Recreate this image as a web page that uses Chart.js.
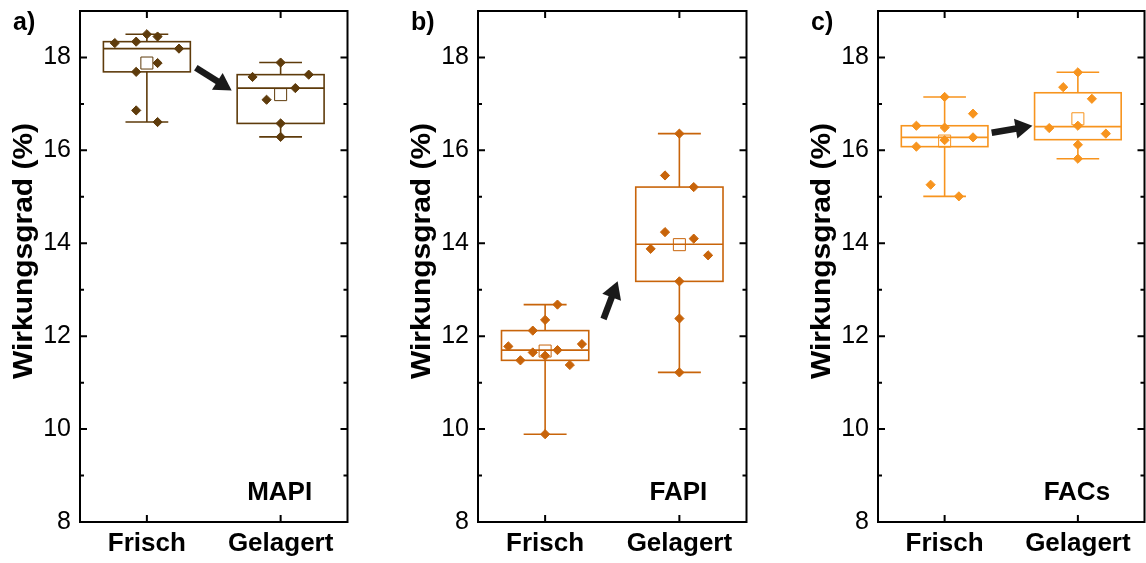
<!DOCTYPE html>
<html>
<head>
<meta charset="utf-8">
<title>Wirkungsgrad</title>
<script src="https://cdn.jsdelivr.net/npm/chart.js@4.4.0/dist/chart.umd.min.js"></script>
<style>
  body { margin: 0; background: #fff; width: 1146px; height: 563px; overflow: hidden; position: relative; }
  .panel { position: absolute; top: 0; height: 563px; }
</style>
</head>
<body>
<div class="panel" style="left:0; width:357px;"><canvas id="chartA"></canvas></div>
<div class="panel" style="left:398px; width:358px;"><canvas id="chartB"></canvas></div>
<div class="panel" style="left:798px; width:356px;"><canvas id="chartC"></canvas></div>

<script>
const categories = ['Frisch', 'Gelagert'];
const yMajorTicks = [8, 10, 12, 14, 16, 18];
const yMinorTicks = [9, 11, 13, 15, 17];
const yTitle = 'Wirkungsgrad (%)';

// MAPI: einzelne Zellen, x-Versatz (jitter) in Kategorieeinheiten
const mapiFrisch = [18.50, 18.45, 18.34, 18.31, 18.19, 17.88, 17.69, 16.86, 16.61];
const mapiFrischJitter = [0, 0.08, -0.08, -0.24, 0.24, 0.08, -0.08, -0.08, 0.08];
const mapiGelagert = [17.89, 17.63, 17.58, 17.34, 17.09, 16.58, 16.29];
const mapiGelagertJitter = [0, 0.21, -0.21, 0.11, -0.105, 0, 0];
// [min, Q1, Median, Q3, max] je Kategorie
const mapiBox = [[16.61, 17.69, 18.19, 18.34, 18.50], [16.29, 16.58, 17.34, 17.63, 17.89]];
const mapiMean = [17.88, 17.20];
const mapiArrow = [[0.366, 17.78], [0.634, 17.29]];

// FAPI
const fapiFrisch = [12.68, 12.35, 12.12, 11.83, 11.78, 11.70, 11.65, 11.58, 11.48, 11.38, 9.89];
const fapiFrischJitter = [0.092, 0, -0.092, 0.274, -0.274, 0.092, -0.092, 0, -0.184, 0.184, 0];
const fapiGelagert = [16.36, 15.46, 15.21, 14.24, 14.10, 13.88, 13.74, 13.18, 12.38, 11.22];
const fapiGelagertJitter = [0, -0.107, 0.107, -0.107, 0.107, -0.214, 0.214, 0, 0, 0];
const fapiBox = [[9.89, 11.48, 11.70, 12.12, 12.68], [11.22, 13.18, 13.98, 15.21, 16.36]];
const fapiMean = [11.68, 13.97];
const fapiArrow = [[0.435, 12.37], [0.54, 13.18]];

// FACs
const facsFrisch = [17.15, 16.79, 16.53, 16.49, 16.28, 16.22, 16.08, 15.26, 15.01];
const facsFrischJitter = [0, 0.213, -0.212, 0, 0.213, 0, -0.212, -0.105, 0.107];
const facsGelagert = [17.68, 17.36, 17.11, 16.53, 16.48, 16.36, 16.12, 15.82];
const facsGelagertJitter = [0, -0.11, 0.105, 0, -0.215, 0.21, 0, 0];
const facsBox = [[15.01, 16.08, 16.28, 16.53, 17.15], [15.82, 16.23, 16.51, 17.24, 17.68]];
const facsMean = [16.20, 16.68];
const facsArrow = [[0.353, 16.38], [0.659, 16.53]];

const panels = [
  { id: 'chartA', tag: 'a)', name: 'MAPI', color: '#5e3b0b', values: [mapiFrisch, mapiGelagert],
    jitter: [mapiFrischJitter, mapiGelagertJitter], box: mapiBox, mean: mapiMean, arrow: mapiArrow, padRight: 3 },
  { id: 'chartB', tag: 'b)', name: 'FAPI', color: '#c8640a', values: [fapiFrisch, fapiGelagert],
    jitter: [fapiFrischJitter, fapiGelagertJitter], box: fapiBox, mean: fapiMean, arrow: fapiArrow, padRight: 2 },
  { id: 'chartC', tag: 'c)', name: 'FACs', color: '#f7941e', values: [facsFrisch, facsGelagert],
    jitter: [facsFrischJitter, facsGelagertJitter], box: facsBox, mean: facsMean, arrow: facsArrow, padRight: 1 }
];

const FONT = "'Liberation Sans', Arial, sans-serif";

// Box, Whisker und Median
const boxPlugin = {
  id: 'boxes',
  beforeDatasetsDraw(chart, args, opts) {
    const { ctx } = chart;
    const xs = chart.scales.x, ys = chart.scales.y;
    ctx.save();
    ctx.strokeStyle = opts.color;
    ctx.lineWidth = 1.6;
    opts.box.forEach((s, i) => {
      const cx = xs.getPixelForValue(i);
      const bw = xs.getPixelForValue(i + 0.325) - cx;
      const cw = xs.getPixelForValue(i + 0.16) - cx;
      const [mn, q1, md, q3, mx] = s.map(v => ys.getPixelForValue(v));
      ctx.beginPath();
      ctx.moveTo(cx, mx); ctx.lineTo(cx, q3);
      ctx.moveTo(cx, q1); ctx.lineTo(cx, mn);
      ctx.moveTo(cx - cw, mx); ctx.lineTo(cx + cw, mx);
      ctx.moveTo(cx - cw, mn); ctx.lineTo(cx + cw, mn);
      ctx.moveTo(cx - bw, md); ctx.lineTo(cx + bw, md);
      ctx.stroke();
      ctx.strokeRect(cx - bw, q3, 2 * bw, q1 - q3);
    });
    ctx.restore();
  },
  afterDatasetsDraw(chart, args, opts) {
    // Pfeil zwischen den Kategorien
    const { ctx } = chart;
    const xs = chart.scales.x, ys = chart.scales.y;
    const x0 = xs.getPixelForValue(opts.arrow[0][0]), y0 = ys.getPixelForValue(opts.arrow[0][1]);
    const x1 = xs.getPixelForValue(opts.arrow[1][0]), y1 = ys.getPixelForValue(opts.arrow[1][1]);
    const len = Math.hypot(x1 - x0, y1 - y0);
    const ux = (x1 - x0) / len, uy = (y1 - y0) / len;
    const head = 17, half = 10;
    const bx = x1 - ux * head, by = y1 - uy * head;
    ctx.save();
    ctx.strokeStyle = '#1a1a1a';
    ctx.fillStyle = '#1a1a1a';
    ctx.lineWidth = 6.5;
    ctx.beginPath();
    ctx.moveTo(x0, y0); ctx.lineTo(bx + ux, by + uy);
    ctx.stroke();
    ctx.beginPath();
    ctx.moveTo(x1, y1);
    ctx.lineTo(bx - uy * half, by + ux * half);
    ctx.lineTo(bx + uy * half, by - ux * half);
    ctx.closePath();
    ctx.fill();
    ctx.restore();
  }
};

// Rahmen, nach innen zeigende Ticks und Beschriftungen
const framePlugin = {
  id: 'frame',
  afterDraw(chart, args, opts) {
    const { ctx, chartArea: ca } = chart;
    const xs = chart.scales.x, ys = chart.scales.y;
    ctx.save();
    ctx.strokeStyle = '#000';
    ctx.lineWidth = 2;
    ctx.strokeRect(ca.left, ca.top, ca.width, ca.height);
    ctx.beginPath();
    yMajorTicks.forEach(v => {
      const py = ys.getPixelForValue(v);
      ctx.moveTo(ca.left, py); ctx.lineTo(ca.left + 7, py);
      ctx.moveTo(ca.right, py); ctx.lineTo(ca.right - 7, py);
    });
    yMinorTicks.forEach(v => {
      const py = ys.getPixelForValue(v);
      ctx.moveTo(ca.left, py); ctx.lineTo(ca.left + 4, py);
      ctx.moveTo(ca.right, py); ctx.lineTo(ca.right - 4, py);
    });
    categories.forEach((c, i) => {
      const px = xs.getPixelForValue(i);
      ctx.moveTo(px, ca.bottom); ctx.lineTo(px, ca.bottom - 7);
      ctx.moveTo(px, ca.top); ctx.lineTo(px, ca.top + 7);
    });
    ctx.stroke();

    ctx.fillStyle = '#000';
    ctx.font = `bold 25px ${FONT}`;
    ctx.textBaseline = 'alphabetic';
    ctx.textAlign = 'left';
    ctx.fillText(opts.tag, 13, 30);
    ctx.font = `bold 26px ${FONT}`;
    ctx.textAlign = 'center';
    ctx.fillText(opts.name, xs.getPixelForValue(1) - 1, 500);

    // Achsentitel, gedreht
    ctx.translate(24, 251);
    ctx.rotate(-Math.PI / 2);
    ctx.scale(1.07, 1);
    ctx.font = `bold 28px ${FONT}`;
    ctx.textBaseline = 'middle';
    ctx.fillText(yTitle, 0, 0);
    ctx.restore();
  }
};

panels.forEach(p => {
  const points = [];
  p.values.forEach((vals, i) => {
    vals.forEach((v, k) => points.push({ x: i + p.jitter[i][k], y: v }));
  });
  new Chart(document.getElementById(p.id), {
    type: 'scatter',
    data: {
      datasets: [{
        data: points,
        pointStyle: 'rectRot',
        pointRadius: 4.6,
        borderWidth: 1,
        borderColor: p.color,
        backgroundColor: p.color
      }, {
        data: p.mean.map((m, i) => ({ x: i, y: m })),
        pointStyle: 'rect',
        pointRadius: 8.5,
        borderWidth: 1,
        borderColor: p.color,
        backgroundColor: 'rgba(255,255,255,0)'
      }]
    },
    options: {
      responsive: true,
      maintainAspectRatio: false,
      animation: false,
      layout: { padding: { top: 11, right: p.padRight, bottom: 0, left: 0 } },
      plugins: {
        legend: { display: false },
        tooltip: { enabled: false },
        boxes: { color: p.color, box: p.box, arrow: p.arrow },
        frame: { tag: p.tag, name: p.name }
      },
      scales: {
        x: {
          type: 'linear',
          min: -0.5,
          max: 1.5,
          grid: { display: false, drawTicks: false },
          border: { display: false },
          afterBuildTicks: s => { s.ticks = categories.map((c, i) => ({ value: i })); },
          afterFit: s => { s.height = 41; s.paddingLeft = 0; s.paddingRight = 0; },
          ticks: {
            autoSkip: false,
            maxRotation: 0,
            padding: 6,
            color: '#000',
            font: { family: FONT, size: 26, weight: 'bold' },
            callback: v => categories[v]
          }
        },
        y: {
          min: 8,
          max: 19,
          grid: { display: false, drawTicks: false },
          border: { display: false },
          afterBuildTicks: s => { s.ticks = yMajorTicks.map(v => ({ value: v })); },
          afterFit: s => { s.width = 80; s.paddingTop = 0; s.paddingBottom = 0; },
          ticks: {
            padding: 9,
            color: '#000',
            font: { family: FONT, size: 25 }
          }
        }
      }
    },
    plugins: [boxPlugin, framePlugin]
  });
});
</script>
</body>
</html>
